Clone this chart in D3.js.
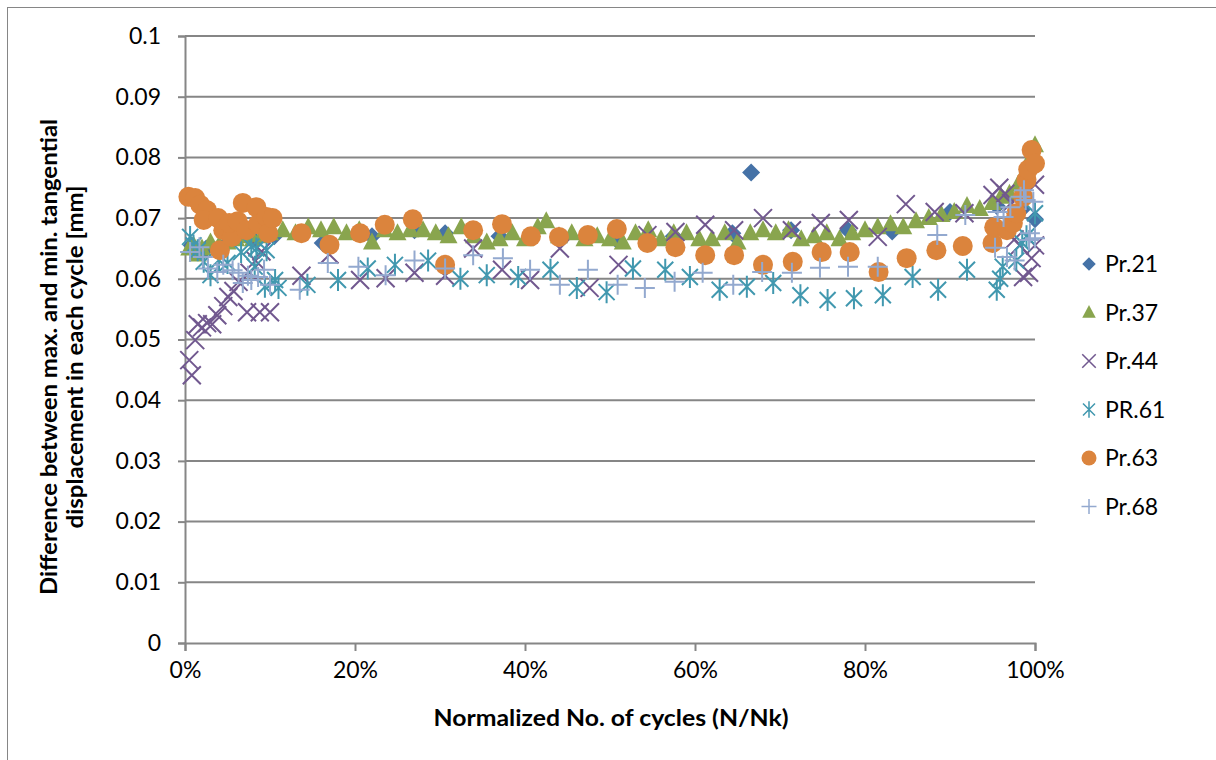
<!DOCTYPE html>
<html>
<head>
<meta charset="utf-8">
<script src="https://cdn.jsdelivr.net/npm/d3@7"></script>
<style>
  body { margin: 0; background: #fff; }
  svg { font-family: Lato, "Open Sans", sans-serif; }
</style>
</head>
<body>
<svg id="chart" width="1216" height="760"></svg>
<script>
// [N/Nk in %, difference in mm]
const pr21 = [
  [0.8, 0.0655], [2.5, 0.065], [5, 0.066], [8, 0.0665], [10.5, 0.067], [16.2, 0.0659],
  [22, 0.067], [27, 0.068], [30.6, 0.0675], [37, 0.067], [44, 0.067], [50.7, 0.0665],
  [57.5, 0.067], [64.4, 0.0675], [66.6, 0.0775], [71.3, 0.068], [78, 0.068],
  [83.2, 0.0678], [90, 0.071], [95.5, 0.072], [98.5, 0.0715], [100, 0.0698]
];
const pr37 = [
  [0.5, 0.065], [1, 0.0655], [1.5, 0.064], [2, 0.065], [3, 0.066], [4, 0.0655], [5, 0.066],
  [6, 0.0665], [7, 0.067], [8, 0.0665], [9, 0.067], [10, 0.0675], [11.5, 0.068], [13, 0.0675],
  [14.5, 0.0685], [16, 0.068], [17.5, 0.0685], [19, 0.0675], [20.5, 0.068], [22, 0.066],
  [23.5, 0.068], [25, 0.0675], [26.5, 0.068], [28, 0.068], [29.5, 0.0675], [31, 0.067],
  [32.5, 0.0685], [34, 0.067], [35.5, 0.066], [37, 0.0665], [38.5, 0.0675], [40, 0.0665],
  [41.5, 0.0685], [42.5, 0.0695], [44, 0.067], [45.5, 0.0675], [47, 0.0665], [48.5, 0.067],
  [50, 0.0665], [51.5, 0.066], [53, 0.0675], [54.5, 0.068], [56, 0.0665], [57.5, 0.0675],
  [59, 0.0675], [60.5, 0.0665], [62, 0.0665], [63.5, 0.0675], [65, 0.066], [66.5, 0.0675],
  [68, 0.068], [69.5, 0.0675], [71, 0.068], [72.5, 0.0665], [74, 0.067], [75.5, 0.0675],
  [77, 0.0665], [78.5, 0.0675], [80, 0.068], [81.5, 0.0685], [83, 0.069], [84.5, 0.0685],
  [86, 0.0695], [87.5, 0.07], [89, 0.0705], [90.5, 0.071], [92, 0.072], [93.5, 0.0715],
  [95, 0.0725], [96, 0.0735], [97, 0.074], [98, 0.0755], [99, 0.078], [99.5, 0.08], [100, 0.082]
];
const pr44 = [
  [0.5, 0.0466], [0.8, 0.0441], [1.2, 0.0499], [1.5, 0.0525], [2, 0.052], [2.6, 0.0527],
  [3.2, 0.0525], [3.8, 0.054], [4.5, 0.0555], [5.1, 0.057], [5.7, 0.058], [6.3, 0.0595],
  [7.3, 0.0545], [7.6, 0.061], [8.3, 0.063], [8.8, 0.0545], [9, 0.0645], [10, 0.0545],
  [13.7, 0.0605], [17, 0.064], [20.6, 0.0598], [23.6, 0.0601], [27, 0.061], [30.6, 0.0605],
  [33.9, 0.065], [37.3, 0.0615], [40.6, 0.0598], [44.1, 0.065], [47.6, 0.0585], [51, 0.0623],
  [54.4, 0.0672], [57.7, 0.0677], [61.2, 0.0689], [64.6, 0.068], [68, 0.07], [71.4, 0.068],
  [74.8, 0.0692], [78.1, 0.0697], [81.5, 0.0669], [84.8, 0.0723], [88.2, 0.071], [91.7, 0.0708],
  [95, 0.0738], [95.8, 0.075], [96.5, 0.074], [97.2, 0.0725], [97.6, 0.0665], [98.2, 0.0655],
  [98.6, 0.0603], [99.3, 0.061], [99.6, 0.0634], [100, 0.0655], [100, 0.0755]
];
const pr61 = [
  [0.6, 0.0669], [1, 0.0655], [1.5, 0.0647], [2.2, 0.0628], [3, 0.0606], [4, 0.0631],
  [5, 0.0626], [6.6, 0.0644], [7.8, 0.0653], [8.4, 0.065], [8.2, 0.062], [9.4, 0.0587],
  [9.6, 0.0647], [10.6, 0.0598], [11, 0.0585], [14.4, 0.059], [18, 0.0598], [21.5, 0.0617],
  [24.7, 0.0623], [28.6, 0.063], [32.4, 0.06], [35.5, 0.0606], [39.2, 0.0603], [43, 0.0615],
  [46.1, 0.0585], [49.6, 0.0578], [52.7, 0.0617], [56.5, 0.0615], [59.4, 0.0603], [62.9, 0.0582],
  [66.1, 0.0587], [69.2, 0.0593], [72.4, 0.0573], [75.6, 0.0565], [78.7, 0.0568], [82.1, 0.0573],
  [85.6, 0.0603], [88.6, 0.0582], [92, 0.0615], [95.5, 0.0582], [95.9, 0.06], [96.2, 0.062],
  [97.8, 0.063], [98.5, 0.0659], [99, 0.067], [100, 0.0708]
];
const pr63 = [
  [0.4, 0.0735], [1.2, 0.0733], [1.8, 0.0722], [2.6, 0.0713], [2.2, 0.0697], [3.9, 0.07],
  [4.5, 0.068], [4.1, 0.0647], [5.5, 0.0669], [5.2, 0.0692], [6.2, 0.0695], [6.8, 0.0725],
  [7.2, 0.068], [8.4, 0.0718], [8.6, 0.069], [9.6, 0.0702], [9.8, 0.0675], [10.3, 0.07],
  [13.7, 0.0675], [17, 0.0656], [20.6, 0.0675], [23.5, 0.0689], [26.8, 0.0698], [30.6, 0.0623],
  [33.9, 0.068], [37.3, 0.069], [40.7, 0.067], [44, 0.0669], [47.4, 0.0672], [50.8, 0.0682],
  [54.4, 0.0659], [57.7, 0.0652], [61.2, 0.0639], [64.6, 0.0639], [68, 0.0623], [71.5, 0.0628],
  [74.9, 0.0644], [78.2, 0.0644], [81.6, 0.0611], [84.9, 0.0634], [88.4, 0.0647], [91.5, 0.0654],
  [95, 0.0659], [95.2, 0.0685], [96.7, 0.068], [97.4, 0.0692], [97.8, 0.0708], [98.6, 0.0735],
  [99, 0.0763], [99.2, 0.078], [99.6, 0.0812], [100, 0.079]
];
const pr68 = [
  [0.6, 0.0644], [1.7, 0.0652], [2.1, 0.0636], [2.7, 0.0617], [3.8, 0.0611], [4.5, 0.0623],
  [5.6, 0.0614], [6.3, 0.061], [6.8, 0.0593], [7.4, 0.0605], [8.6, 0.0603], [9.3, 0.0615],
  [7.8, 0.0598], [10, 0.059], [13.5, 0.0582], [16.8, 0.0626], [20.4, 0.062], [23.6, 0.0606],
  [27, 0.063], [30.6, 0.0617], [33.9, 0.0639], [37.4, 0.0634], [40.6, 0.0615], [44.1, 0.059],
  [47.4, 0.0615], [50.9, 0.059], [54.1, 0.0585], [57.6, 0.0595], [60.9, 0.061], [64.5, 0.059],
  [67.9, 0.0611], [71.4, 0.061], [74.7, 0.0618], [78, 0.062], [81.5, 0.062], [88.5, 0.0672],
  [91.8, 0.0705], [95.3, 0.0651], [95.6, 0.071], [96.3, 0.0702], [96.7, 0.0636], [97.1, 0.0718],
  [97.6, 0.063], [98.3, 0.0735], [98.7, 0.0746], [98.9, 0.073], [99.3, 0.0664], [99.4, 0.0675],
  [99.8, 0.0727], [100, 0.0667]
];

const series = [
  { name: 'Pr.21', data: pr21, color: '#4572A7', shape: 'diamond' },
  { name: 'Pr.37', data: pr37, color: '#89A54E', shape: 'triangle' },
  { name: 'Pr.44', data: pr44, color: '#71588F', shape: 'x' },
  { name: 'PR.61', data: pr61, color: '#4198AF', shape: 'star' },
  { name: 'Pr.63', data: pr63, color: '#DB843D', shape: 'circle' },
  { name: 'Pr.68', data: pr68, color: '#93A9CF', shape: 'plus' }
];

const yTicks = [0, 0.01, 0.02, 0.03, 0.04, 0.05, 0.06, 0.07, 0.08, 0.09, 0.1];
const xTicks = [0, 20, 40, 60, 80, 100];

const svg = d3.select('#chart');
const plotLeft = 185, plotRight = 1035, plotTop = 36, plotBottom = 643;

const x = d3.scaleLinear().domain([0, 100]).range([plotLeft, plotRight]);
const y = d3.scaleLinear().domain([0, 0.1]).range([plotBottom, plotTop]);

// outer frame
svg.append('rect')
  .attr('x', 7.5).attr('y', 7.5)
  .attr('width', 1220).attr('height', 760)
  .attr('fill', 'none').attr('stroke', '#868686').attr('stroke-width', 1);

// gridlines
svg.append('g').selectAll('line')
  .data(yTicks.slice(1))
  .join('line')
  .attr('x1', plotLeft).attr('x2', plotRight)
  .attr('y1', (d) => y(d)).attr('y2', (d) => y(d))
  .attr('stroke', '#868686').attr('stroke-width', 2);

const yAxis = svg.append('g')
  .attr('transform', `translate(${plotLeft},0)`)
  .call(d3.axisLeft(y).tickValues(yTicks).tickFormat((d) => String(+d.toFixed(2))).tickSize(7).tickPadding(17));
const xAxis = svg.append('g')
  .attr('transform', `translate(0,${plotBottom})`)
  .call(d3.axisBottom(x).tickValues(xTicks).tickFormat((d) => `${d}%`).tickSize(8).tickPadding(11));

[yAxis, xAxis].forEach((ax) => {
  ax.select('.domain').attr('stroke', '#868686').attr('stroke-width', 2);
  ax.selectAll('.tick line').attr('stroke', '#868686').attr('stroke-width', 2);
  ax.selectAll('.tick text').attr('fill', '#000').style('font-size', '23px').style('font-family', 'Lato, sans-serif');
});

// marker shapes
const markerPath = (shape) => {
  switch (shape) {
    case 'diamond': return 'M0,-9L9,0L0,9L-9,0Z';
    case 'triangle': return 'M0,-10L9,7L-9,7Z';
    case 'x': return 'M-9,-9L9,9M9,-9L-9,9';
    case 'star': return 'M-8,-8L8,8M8,-8L-8,8M0,-11L0,11';
    case 'plus': return 'M-10,0L10,0M0,-10L0,10';
    default: return null;
  }
};

const drawMarker = (g, s) => {
  if (s.shape === 'circle') {
    g.append('circle').attr('r', 10).attr('fill', s.color);
  } else if (s.shape === 'diamond' || s.shape === 'triangle') {
    g.append('path').attr('d', markerPath(s.shape)).attr('fill', s.color);
  } else {
    g.append('path').attr('d', markerPath(s.shape)).attr('fill', 'none')
      .attr('stroke', s.color).attr('stroke-width', 2);
  }
};

series.forEach((s) => {
  svg.append('g')
    .selectAll('g')
    .data(s.data)
    .join('g')
    .attr('transform', (d) => `translate(${x(d[0])},${y(d[1])})`)
    .each(function () { drawMarker(d3.select(this), s); });
});

// legend
const legend = svg.append('g');
series.forEach((s, i) => {
  const row = legend.append('g').attr('transform', `translate(1089,${264 + i * 48.5})`);
  const m = row.append('g').attr('transform', 'scale(0.75)');
  drawMarker(m, s);
  row.append('text').attr('x', 16).attr('y', 8)
    .style('font-size', '23px').text(s.name);
});

// axis titles
svg.append('text')
  .attr('x', 611).attr('y', 726)
  .attr('text-anchor', 'middle')
  .style('font-size', '22px').style('font-weight', 'bold')
  .attr('textLength', 355).attr('lengthAdjust', 'spacingAndGlyphs')
  .text('Normalized No. of cycles (N/Nk)');

const yTitle = svg.append('text')
  .attr('transform', 'translate(0,357) rotate(-90)')
  .attr('text-anchor', 'middle')
  .style('font-size', '22px').style('font-weight', 'bold');
yTitle.append('tspan').attr('x', 0).attr('y', 57)
  .attr('textLength', 476).attr('lengthAdjust', 'spacingAndGlyphs')
  .text('Difference between max. and min. tangential');
yTitle.append('tspan').attr('x', 0).attr('y', 83)
  .attr('textLength', 343).attr('lengthAdjust', 'spacingAndGlyphs')
  .text('displacement in each cycle [mm]');
</script>
</body>
</html>
